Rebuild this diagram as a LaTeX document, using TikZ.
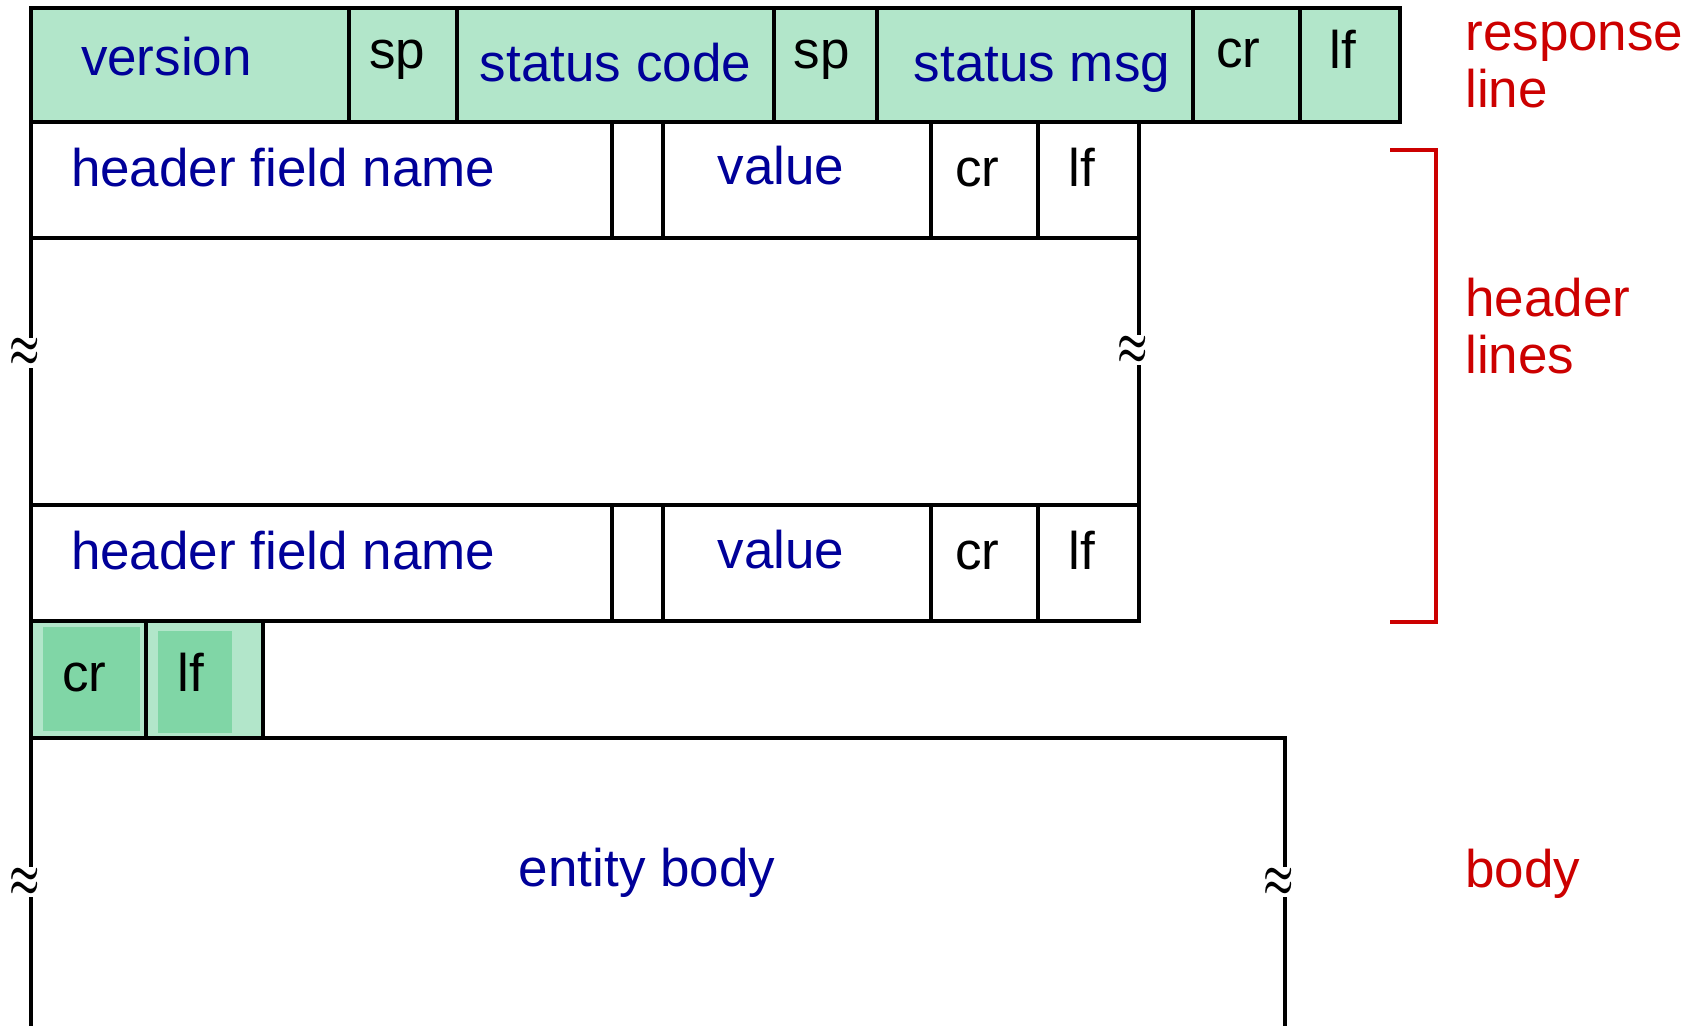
\documentclass[tikz,border=0pt]{standalone}
\usepackage{fontspec}
\setmainfont{Liberation Sans}
\usepackage{xcolor}
\usepackage{tikz}
\usetikzlibrary{positioning,calc}

\definecolor{msgblue}{RGB}{0,0,153}
\definecolor{lblred}{RGB}{204,0,0}
\definecolor{rowgreen}{RGB}{178,230,202}
\definecolor{crgreen}{RGB}{128,214,166}

\newcommand{\brkmark}{{\boldmath\scalebox{1.7}[2.6]{$\approx$}}}

\begin{document}
\begin{tikzpicture}[
        x=0.5pt, y=-0.5pt,
        field/.style={draw, rectangle, line width=1.75pt, inner sep=0pt, outer sep=0pt, minimum height=57pt, text height=19pt, text depth=12pt, font=\fontsize{26.5}{28.5}\selectfont},
        resp/.style={field, fill=rowgreen},
        hdr/.style={field, minimum height=58pt},
        bluetxt/.style={text=msgblue},
        wall/.style={line width=1.75pt},
        brk/.style={fill=white, inner xsep=0pt, inner ysep=0.5pt, outer sep=0pt},
        redlbl/.style={text=lblred, align=left, anchor=base west, inner sep=0pt, font=\fontsize{26.5}{28.5}\selectfont}
    ]
        \useasboundingbox (0,0) rectangle (1693,1026);
        \fill[white] (0,0) rectangle (1693,1026);

        % response line
        \node[resp, bluetxt, anchor=north west, minimum width=159pt, inner xsep=25pt, text depth=8pt] (ver) at (31,8) {\makebox[109pt][l]{version}};
        \node[resp, minimum width=54pt, right=0pt of ver, text depth=15pt] (sp1) {sp\hspace*{6pt}};
        \node[resp, bluetxt, minimum width=158.5pt, right=0pt of sp1, text depth=2pt] (code) {status code};
        \node[resp, minimum width=51.5pt, right=0pt of code, text depth=15pt] (sp2) {sp\hspace*{4pt}};
        \node[resp, bluetxt, minimum width=158pt, right=0pt of sp2, text depth=2pt] (msg) {\hspace*{7pt}status msg};
        \node[resp, minimum width=53.5pt, right=0pt of msg, text depth=16pt] (rcr) {cr\hspace*{8pt}};
        \node[resp, minimum width=50pt, right=0pt of rcr, text depth=15pt] (rlf) {lf\hspace*{7pt}};

        % first header line
        \node[hdr, bluetxt, anchor=north west, minimum width=290.5pt, inner xsep=20pt] (h1name) at (ver.south west) {\makebox[250.5pt][l]{header field name}};
        \node[hdr, minimum width=25.5pt, right=0pt of h1name] (h1sp) {};
        \node[hdr, bluetxt, minimum width=134pt, right=0pt of h1sp, text depth=14pt] (h1val) {value\hspace*{16pt}};
        \node[hdr, minimum width=53.5pt, right=0pt of h1val] (h1cr) {cr\hspace*{7pt}};
        \node[hdr, minimum width=50.5pt, right=0pt of h1cr] (h1lf) {lf\hspace*{7pt}};

        % last header line
        \node[hdr, bluetxt, anchor=north west, minimum width=290.5pt, inner xsep=20pt] (h2name) at ([yshift=-133.5pt]h1name.south west) {\makebox[250.5pt][l]{header field name}};
        \node[hdr, minimum width=25.5pt, right=0pt of h2name] (h2sp) {};
        \node[hdr, bluetxt, minimum width=134pt, right=0pt of h2sp, text depth=14pt] (h2val) {value\hspace*{16pt}};
        \node[hdr, minimum width=53.5pt, right=0pt of h2val] (h2cr) {cr\hspace*{7pt}};
        \node[hdr, minimum width=50.5pt, right=0pt of h2cr] (h2lf) {lf\hspace*{7pt}};

        % blank line
        \node[field, fill=rowgreen, anchor=north west, minimum width=57.5pt, minimum height=58.5pt, text depth=7pt,
            path picture={\fill[crgreen] ([xshift=6pt,yshift=-3pt]path picture bounding box.north west) rectangle ([xshift=-3pt,yshift=3.5pt]path picture bounding box.south east);}] (bcr) at (h2name.south west) {cr\hspace*{4pt}};
        \node[field, fill=rowgreen, minimum width=58.5pt, minimum height=58.5pt, right=0pt of bcr, text depth=7pt,
            path picture={\fill[crgreen] ([xshift=6pt,yshift=-5pt]path picture bounding box.north west) rectangle ([xshift=-15.5pt,yshift=2.5pt]path picture bounding box.south east);}] (blf) {lf\hspace*{14pt}};

        \coordinate (bodybr) at (1285,1026);
        \coordinate (bodybl) at (31,1026);

        \draw[wall] (h1name.south west) -- node[brk, pos=0.43, xshift=-3pt] (gapl) {\brkmark} (h2name.north west);
        \draw[wall] (h1lf.south east) -- node[brk, pos=0.42, xshift=-3pt] (gapr) {\brkmark} (h2lf.north east);
        \draw[wall] (bcr.south west) -- node[brk, pos=0.5, xshift=-3pt] (bgapl) {\brkmark} (bodybl);
        \draw[wall] (blf.south east) -| node[brk, pos=0.75, xshift=-3pt] (bgapr) {\brkmark} (bodybr);

        \node[bluetxt, anchor=base, inner sep=0pt, font=\fontsize{26.5}{28.5}\selectfont] (ebody) at (647,886) {entity body};

        % labels on the right
        \draw[lblred, line width=1.75pt] (1390,150) -| (1436,622) -- (1390,622);
        \node[redlbl] (lresp) at (1465,108) {response\\line};
        \node[redlbl] (lhdr) at (1465,374) {header\\lines};
        \node[redlbl] (lbody) at (1465,887) {body};
    \end{tikzpicture}
\end{document}
